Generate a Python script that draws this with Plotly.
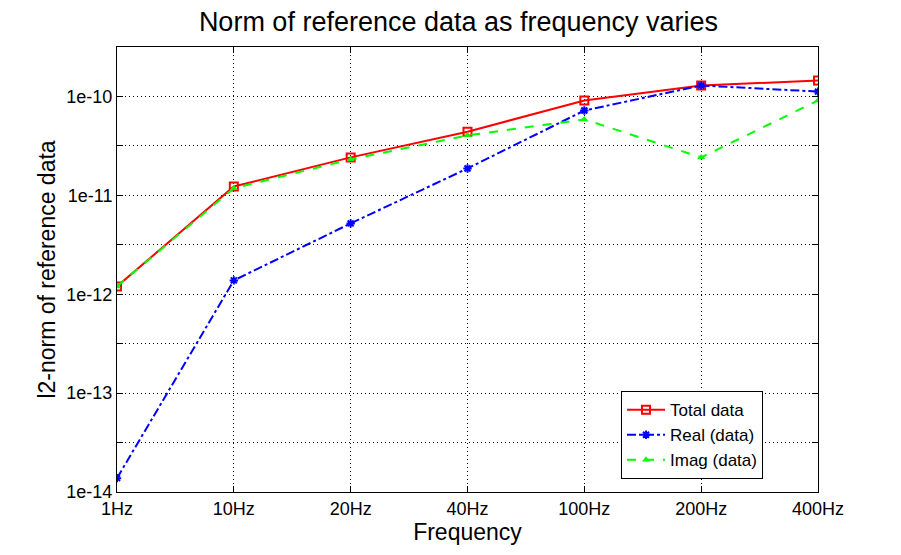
import numpy as np
import plotly.graph_objects as go

# values
freqs = ["1Hz", "10Hz", "20Hz", "40Hz", "100Hz", "200Hz", "400Hz"]
total_data = [1.2e-12, 1.23e-11, 2.42e-11, 4.4e-11, 9.1e-11, 1.29e-10, 1.45e-10]
real_data = [1.38e-14, 1.38e-12, 5.2e-12, 1.87e-11, 7.2e-11, 1.29e-10, 1.12e-10]
imag_data = [1.2e-12, 1.18e-11, 2.31e-11, 4.04e-11, 5.86e-11, 2.42e-11, 9.1e-11]

y_tick_vals = [1e-14, 10**-13.5, 1e-13, 10**-12.5, 1e-12, 10**-11.5, 1e-11, 10**-10.5, 1e-10, 10**-9.5]
y_tick_text = ["1e-14", "", "1e-13", "", "1e-12", "", "1e-11", "", "1e-10", ""]

font_name = "Liberation Sans, Arial, sans-serif"

fig = go.Figure()
fig.add_trace(go.Scatter(
    x=freqs, y=total_data, name="Total data", mode="lines+markers",
    line=dict(color="#ff0000", width=2),
    marker=dict(symbol="square-open", size=8, color="#ff0000", line=dict(width=2)),
))
fig.add_trace(go.Scatter(
    x=freqs, y=real_data, name="Real (data)", mode="lines+markers",
    line=dict(color="#0000ff", width=2, dash="dashdot"),
    marker=dict(symbol="asterisk-open", size=7, color="#0000ff", line=dict(width=2, color="#0000ff")),
))
fig.add_trace(go.Scatter(
    x=freqs, y=imag_data, name="Imag (data)", mode="lines+markers",
    line=dict(color="#00ff00", width=2, dash="dash"),
    marker=dict(symbol="triangle-up", size=7, color="#00ff00"),
))

# page body has an 8px margin, so the margins are shifted to land the axes where they belong
fig.update_layout(
    width=901, height=555,
    paper_bgcolor="white", plot_bgcolor="white",
    font=dict(family=font_name, color="black", size=17),
    margin=dict(l=109, r=91, t=39, b=71),
    title=dict(text="Norm of reference data as frequency varies", x=0.5, xanchor="center",
               y=0.975, yanchor="middle", font=dict(size=27)),
    legend=dict(x=0.719, y=0.029, xanchor="left", yanchor="bottom",
                bgcolor="white", bordercolor="black", borderwidth=1,
                font=dict(size=17), tracegroupgap=0, itemwidth=38),
)
fig.update_xaxes(
    type="category", range=[0, 6],
    title=dict(text="Frequency", font=dict(size=23), standoff=2),
    showline=True, linecolor="black", linewidth=1, mirror="ticks",
    ticks="inside", ticklen=6, tickcolor="black",
    showgrid=True, gridcolor="black", griddash="1px,3px", gridwidth=1,
    tickfont=dict(size=18), zeroline=False,
)
fig.update_yaxes(
    type="log", range=[-14, -9.5],
    tickvals=y_tick_vals, ticktext=y_tick_text,
    title=dict(text="l2-norm of reference data", font=dict(size=23), standoff=4),
    showline=True, linecolor="black", linewidth=1, mirror="ticks",
    ticks="inside", ticklen=6, tickcolor="black",
    showgrid=True, gridcolor="black", griddash="1px,3px", gridwidth=1,
    tickfont=dict(size=18), zeroline=False,
)

fig.write_html("out.html")
